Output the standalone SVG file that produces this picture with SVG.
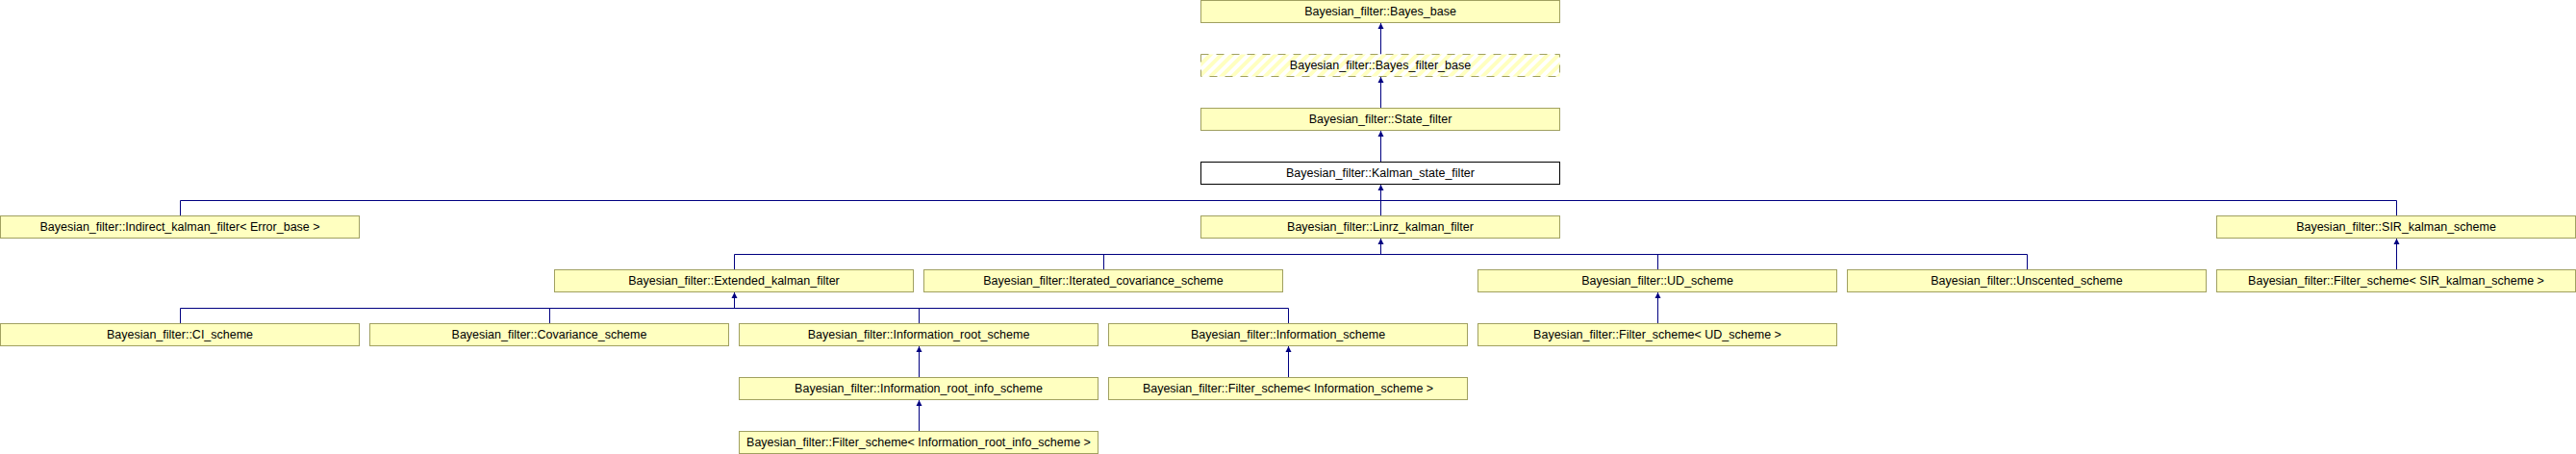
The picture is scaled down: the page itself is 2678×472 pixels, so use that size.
<svg xmlns="http://www.w3.org/2000/svg" width="2678" height="472" viewBox="0 0 2678 472">
<style>
.box{fill:#ffffc0;stroke:#a0a060;stroke-width:1}
.cur{fill:#ffffff;stroke:#000000;stroke-width:1}
.hat{fill:url(#hatch);stroke:#a0a060;stroke-width:1;stroke-dasharray:8,8}
text{font-family:"Liberation Sans",Arial,sans-serif;font-size:12.5px;fill:#000000;text-anchor:middle}
.edge{fill:none;stroke:#000080;stroke-width:1}
.ah{fill:#000080;stroke:none}
</style>
<defs>
<pattern id="hatch" patternUnits="userSpaceOnUse" width="8" height="8" patternTransform="rotate(45)">
<rect x="0" y="0" width="8" height="8" fill="#ffffff"/>
<rect x="0" y="0" width="4" height="8" fill="#ffffc0"/>
</pattern>
</defs>
<rect x="0" y="0" width="2678" height="472" fill="#ffffff"/>
<g id="connectors">
<path class="edge" d="M1435.5,23.5V56.5M1435.5,79.5V112.5M1435.5,135.5V168.5"/>
<path class="edge" d="M1435.5,191.5V224.5M187.5,208.5H2491.5M187.5,208.5V224.5M2491.5,208.5V224.5"/>
<path class="edge" d="M1435.5,247.5V264.5M763.5,264.5H2107.5M763.5,264.5V280.5M1147.5,264.5V280.5M1723.5,264.5V280.5M2107.5,264.5V280.5"/>
<path class="edge" d="M2491.5,247.5V280.5"/>
<path class="edge" d="M763.5,303.5V320.5M187.5,320.5H1339.5M187.5,320.5V336.5M571.5,320.5V336.5M955.5,320.5V336.5M1339.5,320.5V336.5"/>
<path class="edge" d="M1723.5,303.5V336.5M955.5,359.5V392.5M1339.5,359.5V392.5M955.5,415.5V448.5"/>
<polygon class="ah" points="1435.5,24 1432.5,30 1438.5,30"/>
<polygon class="ah" points="1435.5,80 1432.5,86 1438.5,86"/>
<polygon class="ah" points="1435.5,136 1432.5,142 1438.5,142"/>
<polygon class="ah" points="1435.5,192 1432.5,198 1438.5,198"/>
<polygon class="ah" points="1435.5,248 1432.5,254 1438.5,254"/>
<polygon class="ah" points="2491.5,248 2488.5,254 2494.5,254"/>
<polygon class="ah" points="763.5,304 760.5,310 766.5,310"/>
<polygon class="ah" points="1723.5,304 1720.5,310 1726.5,310"/>
<polygon class="ah" points="955.5,360 952.5,366 958.5,366"/>
<polygon class="ah" points="1339.5,360 1336.5,366 1342.5,366"/>
<polygon class="ah" points="955.5,416 952.5,422 958.5,422"/>
</g>
<g id="bayes_base"><rect class="box" x="1248.5" y="0.5" width="373" height="23"/><text x="1435" y="16">Bayesian_filter::Bayes_base</text></g>
<g id="bayes_filter_base"><rect class="hat" x="1248.5" y="56.5" width="373" height="23"/><text x="1435" y="72">Bayesian_filter::Bayes_filter_base</text></g>
<g id="state_filter"><rect class="box" x="1248.5" y="112.5" width="373" height="23"/><text x="1435" y="128">Bayesian_filter::State_filter</text></g>
<g id="kalman_state_filter"><rect class="cur" x="1248.5" y="168.5" width="373" height="23"/><text x="1435" y="184">Bayesian_filter::Kalman_state_filter</text></g>
<g id="indirect_kalman_filter"><rect class="box" x="0.5" y="224.5" width="373" height="23"/><text x="187" y="240">Bayesian_filter::Indirect_kalman_filter&lt; Error_base &gt;</text></g>
<g id="linrz_kalman_filter"><rect class="box" x="1248.5" y="224.5" width="373" height="23"/><text x="1435" y="240">Bayesian_filter::Linrz_kalman_filter</text></g>
<g id="sir_kalman_scheme"><rect class="box" x="2304.5" y="224.5" width="373" height="23"/><text x="2491" y="240">Bayesian_filter::SIR_kalman_scheme</text></g>
<g id="extended_kalman_filter"><rect class="box" x="576.5" y="280.5" width="373" height="23"/><text x="763" y="296">Bayesian_filter::Extended_kalman_filter</text></g>
<g id="iterated_covariance_scheme"><rect class="box" x="960.5" y="280.5" width="373" height="23"/><text x="1147" y="296">Bayesian_filter::Iterated_covariance_scheme</text></g>
<g id="ud_scheme"><rect class="box" x="1536.5" y="280.5" width="373" height="23"/><text x="1723" y="296">Bayesian_filter::UD_scheme</text></g>
<g id="unscented_scheme"><rect class="box" x="1920.5" y="280.5" width="373" height="23"/><text x="2107" y="296">Bayesian_filter::Unscented_scheme</text></g>
<g id="filter_scheme_sir"><rect class="box" x="2304.5" y="280.5" width="373" height="23"/><text x="2491" y="296">Bayesian_filter::Filter_scheme&lt; SIR_kalman_scheme &gt;</text></g>
<g id="ci_scheme"><rect class="box" x="0.5" y="336.5" width="373" height="23"/><text x="187" y="352">Bayesian_filter::CI_scheme</text></g>
<g id="covariance_scheme"><rect class="box" x="384.5" y="336.5" width="373" height="23"/><text x="571" y="352">Bayesian_filter::Covariance_scheme</text></g>
<g id="information_root_scheme"><rect class="box" x="768.5" y="336.5" width="373" height="23"/><text x="955" y="352">Bayesian_filter::Information_root_scheme</text></g>
<g id="information_scheme"><rect class="box" x="1152.5" y="336.5" width="373" height="23"/><text x="1339" y="352">Bayesian_filter::Information_scheme</text></g>
<g id="filter_scheme_ud"><rect class="box" x="1536.5" y="336.5" width="373" height="23"/><text x="1723" y="352">Bayesian_filter::Filter_scheme&lt; UD_scheme &gt;</text></g>
<g id="information_root_info_scheme"><rect class="box" x="768.5" y="392.5" width="373" height="23"/><text x="955" y="408">Bayesian_filter::Information_root_info_scheme</text></g>
<g id="filter_scheme_information"><rect class="box" x="1152.5" y="392.5" width="373" height="23"/><text x="1339" y="408">Bayesian_filter::Filter_scheme&lt; Information_scheme &gt;</text></g>
<g id="filter_scheme_information_root_info"><rect class="box" x="768.5" y="448.5" width="373" height="23"/><text x="955" y="464">Bayesian_filter::Filter_scheme&lt; Information_root_info_scheme &gt;</text></g>
</svg>
